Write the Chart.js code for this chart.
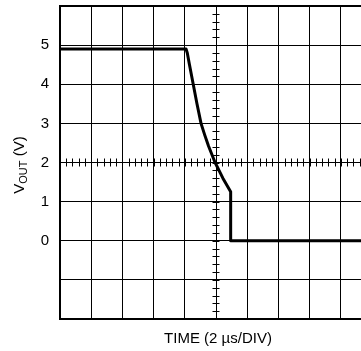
<!DOCTYPE html>
<html>
<head>
<meta charset="utf-8">
<script src="https://cdn.jsdelivr.net/npm/chart.js@4.4.1/dist/chart.umd.min.js"></script>
<style>
  html, body { margin: 0; padding: 0; background: #fff; }
  #wrap { width: 361px; height: 351px; overflow: hidden; position: relative; }
  canvas { display: block; }
</style>
</head>
<body>
<div id="wrap"><canvas id="chart" width="380" height="351"></canvas></div>
<script>
// time in divisions (2 us/DIV), output in volts
const timeDiv = [0, 4.04, 4.08, 4.15, 4.27, 4.39, 4.52, 4.64, 4.76, 4.97, 5.22, 5.47, 5.47, 10];
const voutV   = [4.9, 4.9, 4.8, 4.5, 4.0, 3.5, 3.0, 2.7, 2.42, 2.0, 1.6, 1.25, 0, 0];
const yLabels = [0, 1, 2, 3, 4, 5];
const xTitle = 'TIME (2 \u00b5s/DIV)';

const FONT = '"Liberation Sans", Arial, sans-serif';

// minor ticks along the centre axes + axis titles
const scopePlugin = {
    id: 'scope',
    afterDraw(chart) {
        const ctx = chart.ctx;
        const x = chart.scales.x, y = chart.scales.y;
        const area = chart.chartArea;
        const cx = x.getPixelForValue(5);
        const cy = y.getPixelForValue(2);
        ctx.save();
        ctx.strokeStyle = '#000';
        ctx.lineWidth = 1;
        ctx.beginPath();
        for (let v = 0; v <= 10; v += 0.2) {
            const px = Math.round(x.getPixelForValue(v)) + 0.5;
            ctx.moveTo(px, cy - 4);
            ctx.lineTo(px, cy + 4);
        }
        for (let v = -2; v <= 6; v += 0.2) {
            const py = Math.round(y.getPixelForValue(v)) + 0.5;
            ctx.moveTo(cx - 3.5, py);
            ctx.lineTo(cx + 3.5, py);
        }
        ctx.stroke();

        ctx.fillStyle = '#000';
        ctx.font = '15px ' + FONT;
        ctx.textAlign = 'center';
        ctx.textBaseline = 'middle';
        ctx.fillText(xTitle, (area.left + area.right) / 2 + 2, 339);

        // VOUT (V), rotated
        ctx.translate(20, 165);
        ctx.rotate(-Math.PI / 2);
        ctx.textAlign = 'left';
        ctx.textBaseline = 'alphabetic';
        const big = '15px ' + FONT, small = '11px ' + FONT;
        ctx.font = big;
        const wV = ctx.measureText('V').width;
        const wP = ctx.measureText(' (V)').width;
        ctx.font = small;
        const wO = ctx.measureText('OUT').width;
        let sx = -(wV + wO + wP) / 2;
        ctx.font = big;
        ctx.fillText('V', sx, 4);
        sx += wV;
        ctx.font = small;
        ctx.fillText('OUT', sx, 7);
        sx += wO;
        ctx.font = big;
        ctx.fillText(' (V)', sx, 4);
        ctx.restore();
    }
};

function noPad(s) {
    s.paddingTop = 0;
    s.paddingBottom = 0;
    s.paddingLeft = 0;
    s.paddingRight = 0;
}

new Chart(document.getElementById('chart'), {
    type: 'scatter',
    data: {
        datasets: [{
            data: timeDiv.map((t, i) => ({ x: t, y: voutV[i] })),
            showLine: true,
            borderColor: '#000',
            borderWidth: 3,
            pointRadius: 0,
            tension: 0,
            borderJoinStyle: 'round'
        }]
    },
    options: {
        responsive: false,
        animation: false,
        layout: { padding: { top: 6, right: 8, left: 0, bottom: 0 } },
        plugins: { legend: { display: false }, tooltip: { enabled: false } },
        scales: {
            x: {
                type: 'linear', min: 0, max: 10,
                ticks: { display: false, stepSize: 1 },
                grid: { color: '#000', lineWidth: 1, drawTicks: false },
                border: { display: true, color: '#000', width: 2 },
                afterFit(s) { s.height = 32; noPad(s); }
            },
            y: {
                type: 'linear', min: -2, max: 6,
                ticks: {
                    stepSize: 1,
                    color: '#000',
                    padding: 11,
                    font: { size: 15, family: FONT },
                    callback: v => yLabels.includes(v) ? String(v) : ''
                },
                grid: {
                    color: '#000',
                    drawTicks: false,
                    lineWidth: c => c.tick && c.tick.value === 6 ? 2 : 1
                },
                border: { display: true, color: '#000', width: 2 },
                afterFit(s) { s.width = 60; noPad(s); }
            }
        }
    },
    plugins: [scopePlugin]
});
</script>
</body>
</html>
